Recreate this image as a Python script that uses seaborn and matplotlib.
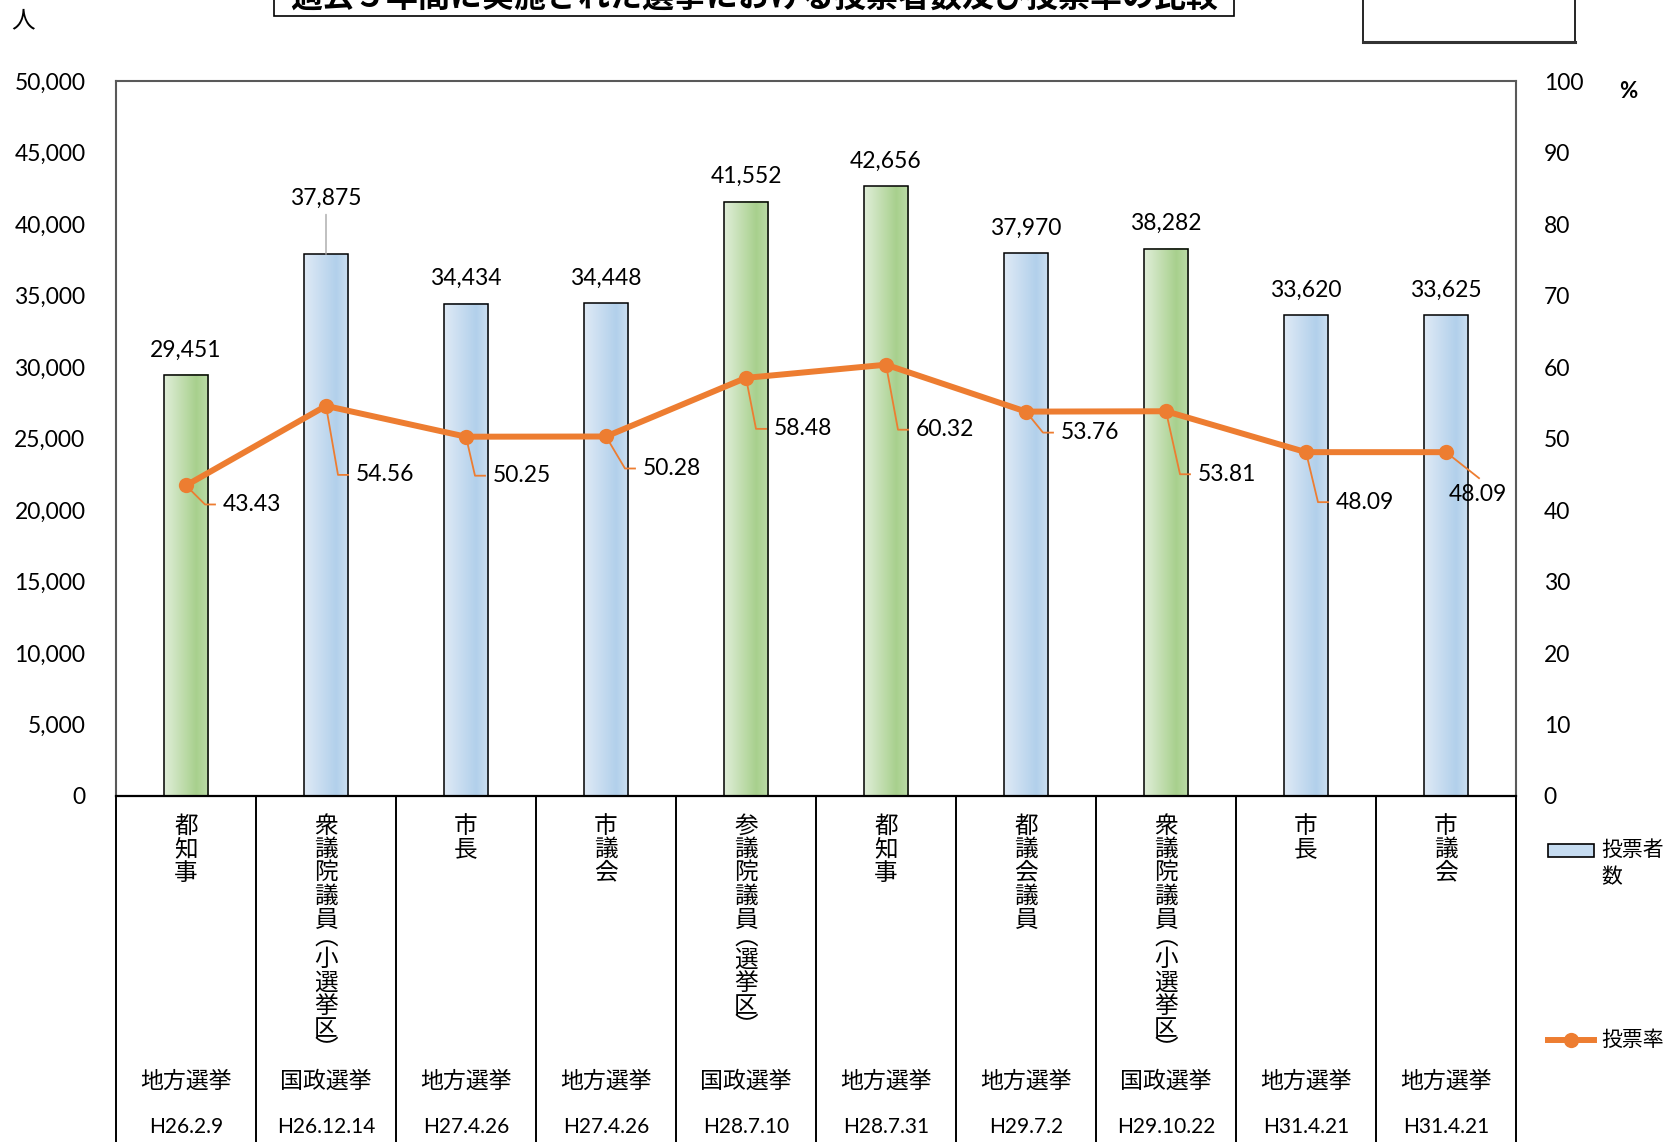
import numpy as np
import pandas as pd
import matplotlib.pyplot as plt
import matplotlib.transforms as mtransforms
from matplotlib.colors import LinearSegmentedColormap
from matplotlib.lines import Line2D
from matplotlib.patches import Rectangle
import seaborn as sns

# data
offices = ['都知事', '衆議院議員（小選挙区）', '市長', '市議会', '参議院議員（選挙区）',
           '都知事', '都議会議員', '衆議院議員（小選挙区）', '市長', '市議会']
kinds = ['地方選挙', '国政選挙', '地方選挙', '地方選挙', '国政選挙',
         '地方選挙', '地方選挙', '国政選挙', '地方選挙', '地方選挙']
dates = ['H26.2.9', 'H26.12.14', 'H27.4.26', 'H27.4.26', 'H28.7.10',
         'H28.7.31', 'H29.7.2', 'H29.10.22', 'H31.4.21', 'H31.4.21']
voters = [29451, 37875, 34434, 34448, 41552, 42656, 37970, 38282, 33620, 33625]
rates = [43.43, 54.56, 50.25, 50.28, 58.48, 60.32, 53.76, 53.81, 48.09, 48.09]

title = '過去５年間に実施された選挙における投票者数及び投票率の比較'

# styling / placement (pixels)
bar_fill = ['green', 'blue', 'blue', 'blue', 'green', 'green', 'blue', 'green', 'blue', 'blue']
bar_lift = [25, 56, 25, 25, 25, 25, 25, 25, 25, 25]
rate_offsets = [(37, 19), (30, 69), (27, 39), (37, 32), (28, 51),
                (30, 65), (35, 21), (32, 63), (30, 50), (3, 42)]
ORANGE = '#ED7D31'

plt.rcParams['font.family'] = ['Lato', 'Noto Sans CJK JP']
W, H = 1666, 1142
fig = plt.figure(figsize=(W / 100, H / 100), dpi=100)

AX_L, AX_R, AX_T, AX_B = 116, 1516, 81, 796
ax = fig.add_axes([AX_L / W, 1 - AX_B / H, (AX_R - AX_L) / W, (AX_B - AX_T) / H])
ax2 = ax.twinx()

df = pd.DataFrame({'key': [f'{d} {o}' for d, o in zip(dates, offices)],
                   'voters': voters, 'rate': rates})

sns.barplot(data=df, x='key', y='voters', ax=ax, width=0.32, color='white',
            edgecolor='black', linewidth=1.1, zorder=3)

# gradient fill like the original office chart
cmaps = {
    'green': LinearSegmentedColormap.from_list('g', [(0, '#e0eed9'), (0.72, '#a8d08d'), (1, '#bcdca8')]),
    'blue': LinearSegmentedColormap.from_list('b', [(0, '#dfeaf6'), (0.72, '#b2d0eb'), (1, '#cde0f2')]),
}
grad = np.linspace(0, 1, 256).reshape(1, -1)
for p, c in zip(ax.patches, bar_fill):
    x0, w, h = p.get_x(), p.get_width(), p.get_height()
    ax.imshow(grad, extent=[x0, x0 + w, 0, h], aspect='auto', cmap=cmaps[c],
              zorder=2, interpolation='bilinear')
    p.set_facecolor('none')

sns.pointplot(data=df, x='key', y='rate', ax=ax2, color=ORANGE, errorbar=None,
              linewidth=4.3, markersize=11, markeredgewidth=0, zorder=5)
for ln in ax2.lines:
    ln.set_linewidth(4.3)
    ln.set_markersize(11)
    ln.set_markeredgewidth(0)

n = len(voters)
ax.set_xlim(-0.5, n - 0.5)
ax.set_ylim(0, 50000)
ax2.set_ylim(0, 100)
ax.set_xlabel('')
ax.set_ylabel('')
ax2.set_xlabel('')
ax2.set_ylabel('')
ax.set_yticks(range(0, 50001, 5000))
ax.set_yticklabels([f'{v:,}' for v in range(0, 50001, 5000)])
ax2.set_yticks(range(0, 101, 10))
ax.tick_params(axis='y', length=0, pad=22, labelsize=16.5)
ax2.tick_params(axis='y', length=0, pad=20, labelsize=16.5)
ax.tick_params(axis='x', length=0, labelbottom=False)

for s in ['left', 'top', 'right']:
    ax.spines[s].set_color('#595959')
    ax.spines[s].set_linewidth(1.5)
ax.spines['bottom'].set_color('black')
ax.spines['bottom'].set_linewidth(1.6)
for s in ax2.spines.values():
    s.set_visible(False)

# value labels on bars
for i, v in enumerate(voters):
    lift = bar_lift[i]
    props = None
    if lift > 30:
        props = dict(arrowstyle='-', color='#a6a6a6', lw=1.0, shrinkA=2, shrinkB=0)
    ax.annotate(f'{v:,}', xy=(i, v), xytext=(0, lift), textcoords='offset pixels',
                ha='center', va='center', fontsize=16.5, arrowprops=props, zorder=6)

# percentage labels with leader lines
ident = mtransforms.IdentityTransform()
for i, r in enumerate(rates):
    mx, my = ax2.transData.transform((i, r))
    dx, dy = rate_offsets[i]
    tx, ty = mx + dx, my - dy
    if i == n - 1:
        xs, ys = [mx, mx + 33], [my, my - 26]
    else:
        xs, ys = [mx, tx - 18, tx - 8], [my, ty, ty]
    fig.add_artist(Line2D(xs, ys, color=ORANGE, lw=1.3, transform=ident, zorder=4))
    fig.text(tx, ty, f'{r:.2f}', transform=ident, ha='left', va='center',
             fontsize=16.5, zorder=7)

# table under the plot
trans = mtransforms.blended_transform_factory(ax.transData, ax.transAxes)
depth = (H - AX_B) / (AX_B - AX_T)
for b in np.arange(-0.5, n, 1):
    ax.plot([b, b], [0, -depth], transform=trans, color='black', lw=1.4,
            clip_on=False, zorder=1)

tf = mtransforms.blended_transform_factory(ax.transData, fig.transFigure)
vert = {'（': '︵', '）': '︶'}
for i in range(n):
    y = 826
    prev = None
    for ch in offices[i]:
        step = 17 if ch in vert else 23.3
        if prev is not None:
            y += (prev + step) / 2
        fig.text(i, 1 - y / H, vert.get(ch, ch), transform=tf, ha='center',
                 va='center', fontsize=17)
        prev = step
    fig.text(i, 1 - 1081 / H, kinds[i], transform=tf, ha='center', va='center', fontsize=16.5)
    fig.text(i, 1 - 1127 / H, dates[i], transform=tf, ha='center', va='center', fontsize=15)

# axis unit labels
fig.text(23 / W, 1 - 21 / H, '人', ha='center', va='center', fontsize=17)
fig.text(1628 / W, 1 - 91 / H, '%', ha='center', va='center', fontsize=16,
         fontweight='bold')

# legend drawn by hand on the right
fig.add_artist(Rectangle((1548, H - 857), 46, 13, transform=ident,
                         facecolor='#c6dcf1', edgecolor='black', lw=1.2))
fig.text(1601, H - 850, '投票者', transform=ident, ha='left', va='center', fontsize=15)
fig.text(1601, H - 877, '数', transform=ident, ha='left', va='center', fontsize=15)
fig.add_artist(Line2D([1548, 1594], [H - 1040, H - 1040], color=ORANGE, lw=4.3,
                      transform=ident))
fig.add_artist(Line2D([1571], [H - 1040], color=ORANGE, marker='o', markersize=11,
                      markeredgewidth=0, transform=ident))
fig.text(1601, H - 1040, '投票率', transform=ident, ha='left', va='center', fontsize=15)

# title box (cut off at top edge as in the source)
fig.add_artist(Rectangle((274, H - 16), 960, 60, transform=ident,
                         facecolor='white', edgecolor='black', lw=1.2))
fig.text(754, H + 4, title, transform=ident, ha='center', va='center',
         fontsize=23, fontweight='bold')
fig.add_artist(Rectangle((1363, H - 42), 212, 80, transform=ident,
                         facecolor='white', edgecolor='black', lw=1.2))
fig.add_artist(Line2D([1363, 1575], [H - 42, H - 42], color='#333333', lw=2.2,
                      transform=ident))

fig.savefig('out.png', dpi=100)
